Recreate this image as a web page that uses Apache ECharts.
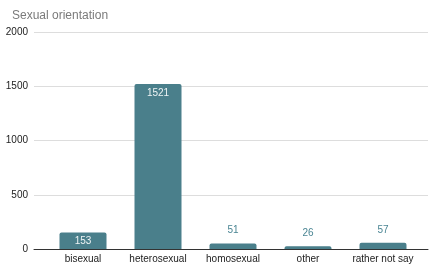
<!DOCTYPE html>
<html><head><meta charset="utf-8">
<script src="https://cdn.jsdelivr.net/npm/echarts@6/dist/echarts.min.js"></script>
<style>html,body{margin:0;padding:0;background:#fff}#c{width:430px;height:266px}</style>
</head><body><div id="c"></div>
<script>
const categories = ['bisexual', 'heterosexual', 'homosexual', 'other', 'rather not say'];
const counts = [153, 1521, 51, 26, 57];
const yTicks = [0, 500, 1000, 1500, 2000];
const title = 'Sexual orientation';

const FONT = '"Liberation Sans", Arial, sans-serif';
const chart = echarts.init(document.getElementById('c'), null, {renderer: 'canvas'});
const barColor = '#4a7f8b';
chart.setOption({
  animation: false,
  title: {text: title, left: 7, top: 5, textStyle: {fontFamily: FONT, fontSize: 12, fontWeight: 'normal', color: '#7a7a7a'}},
  grid: [
    {left: 34, right: 2, top: 32, bottom: 17, containLabel: false},
    {left: 45.5, right: 9.5, top: 32, bottom: 17, containLabel: false}
  ],
  xAxis: [
    {type: 'category', gridIndex: 0, data: [''], show: true, axisLine: {show: true, lineStyle: {color: '#333', width: 1}}, axisTick: {show: false}, axisLabel: {show: false}},
    {type: 'category', gridIndex: 1, data: categories, axisLine: {show: false}, axisTick: {show: false},
     axisLabel: {color: '#222', fontFamily: FONT, fontSize: 10, margin: 5, interval: 0}}
  ],
  yAxis: [
    {type: 'value', gridIndex: 0, min: yTicks[0], max: yTicks[yTicks.length - 1], interval: 500,
     axisLine: {show: false}, axisTick: {show: false},
     axisLabel: {color: '#222', fontFamily: FONT, fontSize: 10, margin: 6, formatter: v => String(v)},
     splitLine: {lineStyle: {color: '#dddddd', width: 1}}},
    {type: 'value', gridIndex: 1, min: yTicks[0], max: yTicks[yTicks.length - 1], interval: 500, show: false, splitLine: {show: false}}
  ],
  series: [{
    type: 'bar', xAxisIndex: 1, yAxisIndex: 1, barWidth: 47, z: 3,
    itemStyle: {color: barColor, borderRadius: [2, 2, 0, 0]},
    data: counts.map(v => ({
      value: v,
      label: v > 100
        ? {show: true, position: 'insideTop', distance: 4, color: '#eef4f5', fontSize: 10, fontFamily: FONT}
        : {show: true, position: 'top', distance: 8, color: '#4a8593', fontSize: 10, fontFamily: FONT}
    }))
  }]
});
</script></body></html>
